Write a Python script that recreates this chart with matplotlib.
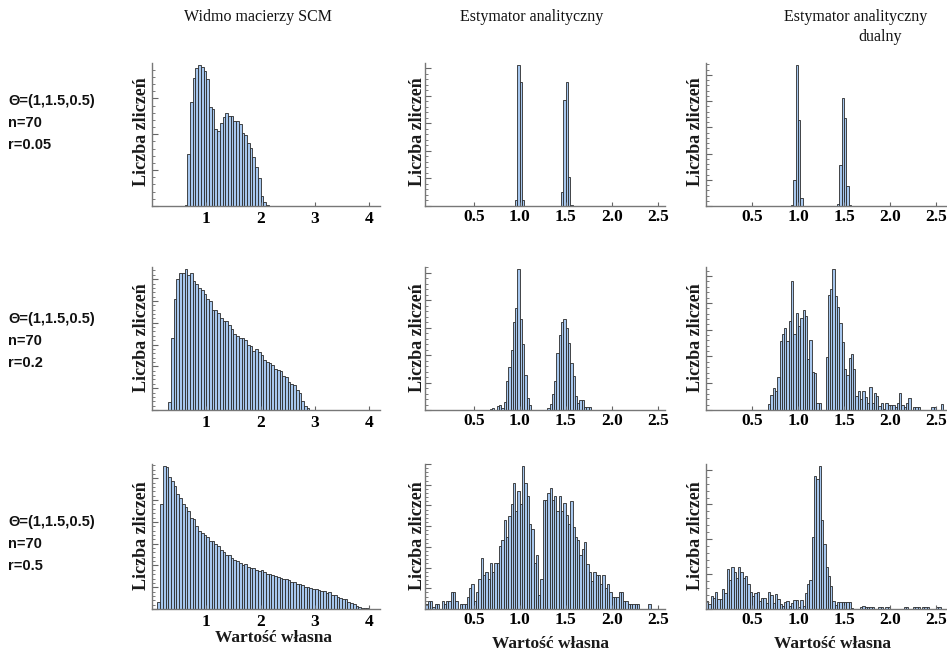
import matplotlib
matplotlib.use("Agg")
import matplotlib.pyplot as plt
import numpy as np
from matplotlib.ticker import FixedLocator, MultipleLocator, NullFormatter

W, H = 947, 653

column_titles = ["Widmo macierzy SCM", "Estymator analityczny", "Estymator analityczny"]
row_params = [
    ["Θ=(1,1.5,0.5)", "n=70", "r=0.05"],
    ["Θ=(1,1.5,0.5)", "n=70", "r=0.2"],
    ["Θ=(1,1.5,0.5)", "n=70", "r=0.5"],
]
y_label = "Liczba zliczeń"
x_label = "Wartość własna"

scm_ticks = [1, 2, 3, 4]
est_ticks = [0.5, 1.0, 1.5, 2.0, 2.5]

# --- histogram counts (bin start, bin width, counts) ---
scm_r005_start, scm_r005_width = 0.6, 0.05
scm_r005 = [4, 145, 291, 358, 385, 393, 389, 377, 354, 275, 271, 216, 208, 232, 248, 259,
            252, 252, 236, 236, 228, 204, 197, 177, 161, 138, 110, 79, 28, 12, 4]

scm_r02_start, scm_r02_width = 0.3, 0.05
scm_r02 = [37, 330, 510, 600, 630, 630, 646, 620, 630, 590, 580, 560, 550, 530, 510, 500,
           460, 460, 445, 420, 406, 406, 390, 370, 350, 340, 330, 330, 320, 300, 295, 270,
           280, 265, 250, 230, 220, 215, 205, 190, 185, 180, 155, 150, 130, 120, 115, 90,
           80, 40, 18, 10]

scm_r05_start, scm_r05_width = 0.1, 0.05
scm_r05 = [30, 480, 656, 650, 606, 590, 566, 530, 510, 480, 470, 450, 420, 414, 380, 360,
           347, 340, 330, 310, 310, 300, 290, 273, 260, 250, 247, 234, 227, 220, 210, 203,
           206, 195, 190, 188, 178, 175, 180, 169, 163, 160, 156, 153, 148, 144, 138, 140,
           133, 125, 122, 117, 113, 110, 100, 100, 97, 94, 90, 86, 84, 81, 75, 78, 62, 66,
           53, 50, 47, 44, 34, 28, 22, 16, 9, 6, 6, 3, 2, 1]

est_r005_start, est_r005_width = 0.95, 0.025
est_r005 = [20, 512, 450, 20] + [0] * 16 + [52, 387, 449, 107, 5]

dual_r005_start, dual_r005_width = 0.925, 0.025
dual_r005 = [2, 100, 537, 327, 30] + [0] * 15 + [9, 156, 412, 337, 75, 5]

est_r02_start, est_r02_width = 0.675, 0.025
est_r02 = [5, 7, 0, 15, 20, 8, 30, 106, 157, 219, 320, 371, 514, 332, 240, 126, 43, 17,
           0, 0, 0, 0, 0, 0, 0,
           7, 23, 57, 106, 207, 273, 320, 332, 300, 243, 171, 124, 52, 26, 37, 37, 12, 10, 12]

dual_r02_start, dual_r02_width = 0.675, 0.025
dual_r02 = [23, 55, 82, 70, 124, 257, 285, 305, 257, 332, 483, 285, 362, 312, 344, 374,
            350, 189, 260, 142, 138, 26, 26, 0, 0, 198, 430, 450, 526, 424, 386, 324, 255,
            154, 130, 195, 210, 154, 52, 70, 40, 70, 50, 26, 86, 26, 62, 52, 14, 26, 2, 26,
            19, 19, 19, 12, 26, 62, 19, 12, 26, 46, 0, 10, 10, 10, 0, 0, 0, 0, 0, 10, 10,
            0, 0, 23]

est_r05_start, est_r05_width = -0.025, 0.025
est_r05 = [22, 40, 40, 10, 22, 22, 0, 37, 22, 40, 40, 81, 81, 40, 0, 22, 22, 22, 60, 103,
           119, 40, 81, 144, 244, 166, 181, 144, 222, 178, 222, 222, 303, 331, 428, 347,
           447, 509, 608, 475, 572, 506, 690, 608, 545, 409, 384, 222, 259, 69, 144, 525,
           525, 560, 584, 525, 545, 475, 545, 475, 514, 456, 409, 522, 394, 347, 334, 259,
           288, 322, 217, 181, 134, 181, 163, 163, 119, 163, 103, 122, 81, 60, 60, 60, 81,
           81, 40, 40, 22, 22, 22, 22, 22, 0, 0, 0, 0, 22, 0]

dual_r05_start, dual_r05_width = 0.0, 0.025
dual_r05 = [24, 15, 36, 32, 50, 30, 30, 56, 45, 116, 84, 120, 107, 90, 120, 105, 88, 95,
            71, 50, 37, 45, 49, 24, 32, 32, 17, 50, 41, 17, 43, 30, 13, 9, 20, 22, 9, 17,
            26, 26, 7, 26, 10, 45, 71, 82, 207, 382, 373, 410, 254, 187, 120, 95, 67, 22,
            11, 20, 20, 20, 20, 20, 20, 4, 0, 0, 0, 5, 8, 5, 5, 5, 5, 0, 0, 5, 5, 0, 5, 5,
            0, 0, 0, 0, 0, 0, 5, 5, 0, 0, 5, 5, 5, 0, 5, 5, 5, 0, 0, 0, 5, 5, 0]

panels = [
    [(scm_r005_start, scm_r005_width, scm_r005),
     (est_r005_start, est_r005_width, est_r005),
     (dual_r005_start, dual_r005_width, dual_r005)],
    [(scm_r02_start, scm_r02_width, scm_r02),
     (est_r02_start, est_r02_width, est_r02),
     (dual_r02_start, dual_r02_width, dual_r02)],
    [(scm_r05_start, scm_r05_width, scm_r05),
     (est_r05_start, est_r05_width, est_r05),
     (dual_r05_start, dual_r05_width, dual_r05)],
]

# pixel layout of the grid
col_px = [(152, 380), (425, 665), (706, 947)]
row_px = [(63, 206), (267, 410), (464, 609)]
col_xlim = [(0.0, 4.2), (-0.03, 2.58), (0.0, 2.62)]

FACE = "#a7c7ee"
EDGE = "#2a2a2a"
SERIF = ["Liberation Serif", "DejaVu Serif"]
SANS = ["Liberation Sans", "DejaVu Sans"]

fig = plt.figure(figsize=(W / 100, H / 100), dpi=100)

for r, (top, bottom) in enumerate(row_px):
    for c, (left, right) in enumerate(col_px):
        ax = fig.add_axes([left / W, 1 - bottom / H, (right - left) / W, (bottom - top) / H])
        start, width, counts = panels[r][c]
        counts = np.asarray(counts, dtype=float)
        edges = start + width * np.arange(len(counts))
        keep = counts > 0
        ax.bar(edges[keep], counts[keep], width=width, align="edge",
               color=FACE, edgecolor=EDGE, linewidth=0.6)
        ax.set_xlim(*col_xlim[c])
        ax.set_ylim(0, counts.max() * 1.015)
        for side in ("top", "right"):
            ax.spines[side].set_visible(False)
        for side in ("left", "bottom"):
            ax.spines[side].set_color("#777777")
            ax.spines[side].set_linewidth(1.0)
        ax.yaxis.set_major_locator(MultipleLocator(100))
        ax.yaxis.set_minor_locator(MultipleLocator(20))
        ax.yaxis.set_major_formatter(NullFormatter())
        ticks = scm_ticks if c == 0 else est_ticks
        ax.xaxis.set_major_locator(FixedLocator(ticks))
        ax.set_xticklabels([f"{t:g}" if c == 0 else f"{t:.1f}" for t in ticks])
        ax.tick_params(axis="y", which="major", direction="in", length=4, width=0.8, color="#666666")
        ax.tick_params(axis="y", which="minor", direction="in", length=2, width=0.6, color="#666666")
        ax.tick_params(axis="x", which="major", direction="in", length=3, width=0.8, color="#666666",
                       pad=3.5 if c == 0 else 2.0, labelsize=12.5)
        for lab in ax.get_xticklabels():
            lab.set_family(SERIF)
            lab.set_fontweight("bold")
        ax.patch.set_alpha(0)

# y labels
ylab_x = [142, 417, 695]
ylab_y = [132, 338, 536]
for yy in ylab_y:
    for xx in ylab_x:
        fig.text(xx / W, 1 - yy / H, y_label, rotation=90, ha="center", va="center",
                 fontsize=13, fontweight="bold", family=SERIF, color="#1a1a1a")

# x labels under bottom row
for xx, yy in [(273, 638), (550, 644), (832, 644)]:
    fig.text(xx / W, 1 - yy / H, x_label, ha="center", va="center",
             fontsize=12.5, fontweight="bold", family=SERIF, color="#1a1a1a")

# column titles
for (xx, yy), title in zip([(258, 17), (532, 17), (856, 17)], column_titles):
    fig.text(xx / W, 1 - yy / H, title, ha="center", va="center",
             fontsize=11.5, family=SERIF, color="#111111")
fig.text(880 / W, 1 - 37 / H, "dualny", ha="center", va="center",
         fontsize=11.5, family=SERIF, color="#111111")

# row parameter labels
for r, base in enumerate([101, 319, 522]):
    for k, line in enumerate(row_params[r]):
        fig.text(8 / W, 1 - (base + 22 * k) / H, line, ha="left", va="center",
                 fontsize=10.5, fontweight="bold", family=SANS, color="#111111")

fig.savefig("out.png", dpi=100)
